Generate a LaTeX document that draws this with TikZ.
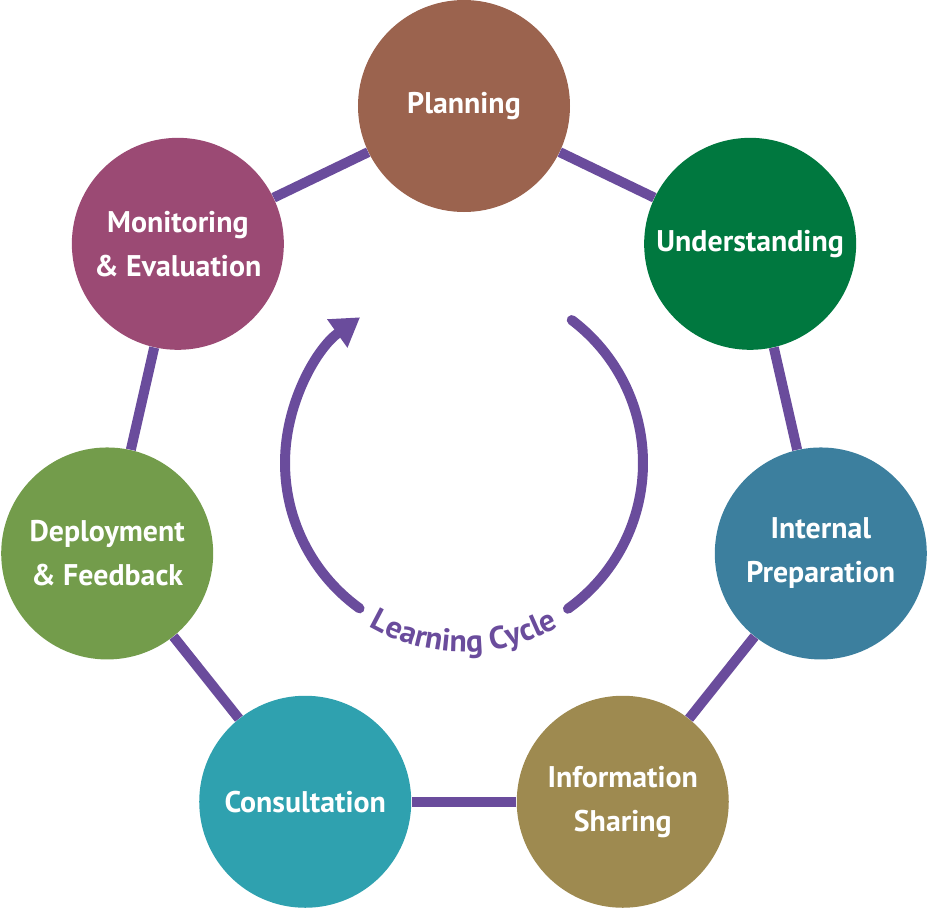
\documentclass[tikz,border=0pt]{standalone}
\usepackage{fontspec}
\setmainfont{PT Sans}
\usetikzlibrary{arrows.meta,decorations.text}

\definecolor{cyclepurple}{HTML}{6A4C9C}
\definecolor{planbrown}{HTML}{9B634E}
\definecolor{understgreen}{HTML}{00783F}
\definecolor{prepblue}{HTML}{3C7F9E}
\definecolor{shareolive}{HTML}{9E8A50}
\definecolor{consultteal}{HTML}{2FA1AF}
\definecolor{deploygreen}{HTML}{739C4B}
\definecolor{monitorplum}{HTML}{9B4A74}

\begin{document}
\begin{tikzpicture}[
    stage/.style={circle, minimum size=4.24cm, inner sep=0pt, align=center, text=white, font=\bfseries\fontsize{17}{25}\selectfont},
    link/.style={line width=0.2cm, cyclepurple},
    loopline/.style={line width=0.2cm, cyclepurple, line cap=round}
  ]
    \useasboundingbox (-9.28,-8.76) rectangle (9.28,9.44);

    \node[stage, fill=planbrown] (plan) at (90:7.32) {Planning};
    \node[stage, fill=understgreen] (underst) at (38.57:7.32) {Understanding};
    \node[stage, fill=prepblue] (prep) at (-12.86:7.32) {Internal\\Preparation};
    \node[stage, fill=shareolive] (share) at (-64.29:7.32) {Information\\Sharing};
    \node[stage, fill=consultteal] (consult) at (-115.71:7.32) {Consultation};
    \node[stage, fill=deploygreen] (deploy) at (-167.14:7.32) {Deployment\\\& Feedback};
    \node[stage, fill=monitorplum] (monitor) at (141.43:7.32) {Monitoring\\\& Evaluation};

    \draw[link] (plan) -- (underst);
    \draw[link] (underst) -- (prep);
    \draw[link] (prep) -- (share);
    \draw[link] (share) -- (consult);
    \draw[link] (consult) -- (deploy);
    \draw[link] (deploy) -- (monitor);
    \draw[link] (monitor) -- (plan);

    \coordinate (hub) at (0,0.18);
    \draw[loopline] ([shift={(53:3.58)}]hub) arc[start angle=53, end angle=-54.5, radius=3.58];
    \draw[loopline, -{Triangle[width=0.66cm, length=0.56cm]}] ([shift={(-125.7:3.58)}]hub) arc[start angle=234.3, end angle=125.5, radius=3.58];
    \path[decorate, decoration={text along path, text align=center, text color=cyclepurple,
        text={|\bfseries\fontsize{18}{21}\selectfont|Learning Cycle}}]
      ([shift={(-140:3.78)}]hub) arc[start angle=-140, end angle=-40, radius=3.78];
  \end{tikzpicture}
\end{document}
